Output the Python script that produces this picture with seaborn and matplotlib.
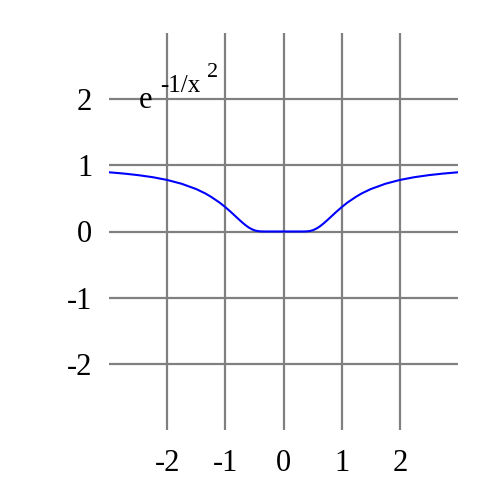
import matplotlib
matplotlib.use("Agg")
import matplotlib.pyplot as plt
import pandas as pd
import seaborn as sns

# curve values
x_vals = [-3.0, -2.75, -2.5, -2.25, -2.0, -1.75, -1.5, -1.35, -1.25, -1.1, -1.0, -0.9,
          -0.85, -0.75, -0.7, -0.65, -0.6, -0.55, -0.5, -0.45, -0.4, -0.35, -0.3, -0.2,
          0.0, 0.2, 0.3, 0.35, 0.4, 0.45, 0.5, 0.55, 0.6, 0.65, 0.7, 0.75, 0.85, 0.9,
          1.0, 1.1, 1.25, 1.35, 1.5, 1.75, 2.0, 2.25, 2.5, 2.75, 3.0]
y_vals = [0.895, 0.876, 0.852, 0.821, 0.779, 0.721, 0.641, 0.578, 0.527, 0.438, 0.368, 0.291,
          0.250, 0.169, 0.130, 0.094, 0.062, 0.037, 0.018, 0.007, 0.002, 0.0003, 0.0, 0.0,
          0.0, 0.0, 0.0, 0.0003, 0.002, 0.007, 0.018, 0.037, 0.062, 0.094, 0.130, 0.169, 0.250, 0.291,
          0.368, 0.438, 0.527, 0.578, 0.641, 0.721, 0.779, 0.821, 0.852, 0.876, 0.895]
ticks = [-2, -1, 0, 1, 2]
tick_labels = ["-2", "-1", "0", "1", "2"]

df = pd.DataFrame({"x": x_vals, "y": y_vals})

sns.set_style("white")
plt.rcParams["font.family"] = ["Liberation Serif", "DejaVu Serif"]

fig = plt.figure(figsize=(5, 5), dpi=100)
ax = fig.add_axes([0.218, 0.14, 0.698, 0.794])

for t in ticks:
    ax.axvline(t, color="#808080", lw=1.6, zorder=1)
    ax.axhline(t, color="#808080", lw=1.6, zorder=1)

sns.lineplot(data=df, x="x", y="y", ax=ax, color="#0000ff", lw=1.5, zorder=3)

ax.set_xlim(-3, 3)
ax.set_ylim(-3, 3)
ax.set_xticks(ticks)
ax.set_xticklabels(tick_labels)
ax.set_yticks(ticks)
ax.set_yticklabels(tick_labels)
ax.tick_params(length=0, labelsize=22, labelcolor="black")
ax.tick_params(axis="x", pad=14)
ax.tick_params(axis="y", pad=12)
ax.set_xlabel("")
ax.set_ylabel("")
for s in ax.spines.values():
    s.set_visible(False)

ax.text(-2.38, 1.98, "e", fontsize=22, ha="center", va="center", color="black")
ax.text(-1.78, 2.2, "-1/x", fontsize=18, ha="center", va="center", color="black")
ax.text(-1.22, 2.4, "2", fontsize=16, ha="center", va="center", color="black")

fig.savefig("out.png", dpi=100)
